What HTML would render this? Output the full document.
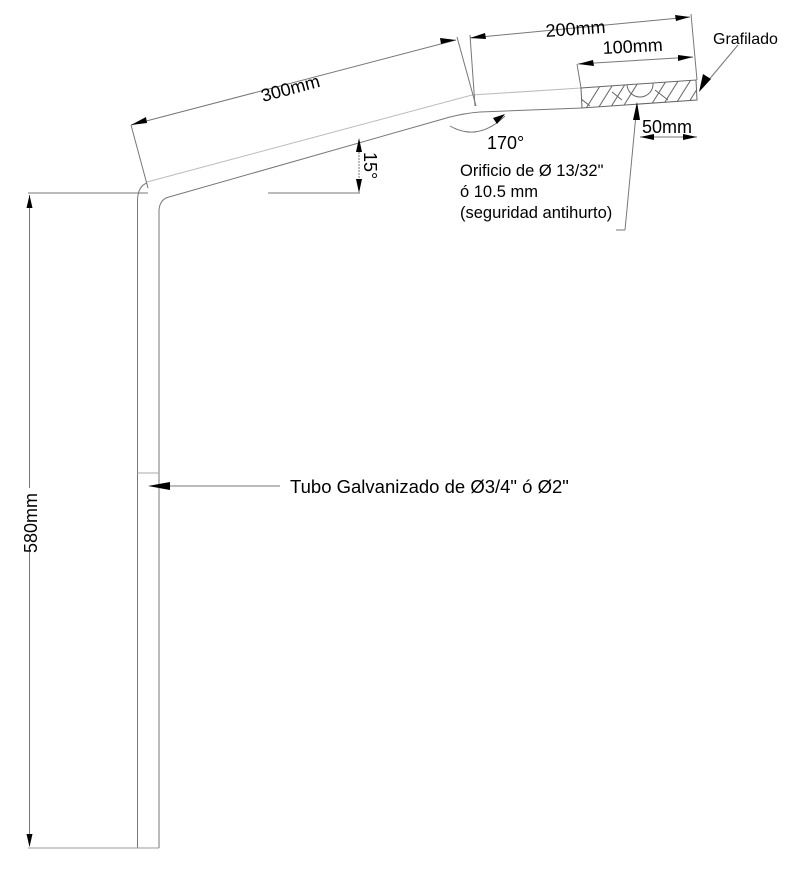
<!DOCTYPE html>
<html><head><meta charset="utf-8"><style>
html,body{margin:0;padding:0;background:#fff;}
svg{display:block;font-family:"Liberation Sans",Arial,sans-serif;}
</style></head><body>
<svg width="795" height="870" viewBox="0 0 795 870" xmlns="http://www.w3.org/2000/svg">
<defs>
<clipPath id="hc"><polygon points="581,88 696,80 697,100 582,108"/></clipPath>
</defs>
<g fill="none" stroke="#777" stroke-width="1">
<path d="M137.5,848 V200 Q138,186 147,183"/>
<path d="M159,848 V210 Q160,199 169,197 L450,117 Q466,113 480,112 L582,108"/>
<path d="M147,182 L472,95 L581,88" stroke="#bbb"/>
<line x1="137.5" y1="473" x2="159" y2="473" stroke="#aaa"/>
<line x1="137.5" y1="848" x2="159" y2="848" stroke="#999"/>
<line x1="28" y1="848" x2="137.5" y2="848" stroke="#999"/>
<line x1="28" y1="193" x2="148" y2="193"/>
<line x1="29.5" y1="195" x2="29.5" y2="488"/>
<line x1="29.5" y1="552" x2="29.5" y2="846"/>
<polygon points="581,88 696,80 697,100 582,108" stroke="#666"/>
<g clip-path="url(#hc)" stroke="#666">
<line x1="585" y1="110" x2="605" y2="78"/><line x1="597" y1="110" x2="617" y2="78"/>
<line x1="609" y1="110" x2="629" y2="78"/><line x1="621" y1="110" x2="641" y2="78"/>
<line x1="648" y1="110" x2="668" y2="78"/><line x1="660" y1="110" x2="680" y2="78"/>
<line x1="672" y1="110" x2="692" y2="78"/><line x1="684" y1="110" x2="704" y2="78"/>
<line x1="575" y1="94" x2="590" y2="106"/><line x1="655" y1="90" x2="668" y2="100"/>
<line x1="612" y1="92" x2="622" y2="100"/>
<path d="M627,85 A13,13 0 0 0 653,83"/>
</g>
<line x1="131" y1="125" x2="456" y2="40"/>
<line x1="131" y1="125" x2="148" y2="188"/>
<line x1="457" y1="37" x2="476" y2="106"/>
<line x1="470" y1="38" x2="690" y2="17"/>
<line x1="470" y1="35" x2="475" y2="106"/>
<line x1="691" y1="14" x2="697" y2="80"/>
<line x1="578" y1="64" x2="693" y2="57"/>
<line x1="577" y1="64" x2="581" y2="88"/>
<line x1="640" y1="137" x2="697" y2="137"/>
<line x1="625" y1="230" x2="637" y2="104"/>
<line x1="616" y1="230" x2="625" y2="230"/>
<line x1="738" y1="45" x2="702" y2="88"/>
<line x1="268" y1="193" x2="360" y2="193"/>
<line x1="359" y1="140" x2="359" y2="191" stroke-dasharray="2,1"/>
<path d="M450,126 Q478,142 505,116"/>
<line x1="150" y1="486" x2="280" y2="486"/>
</g>
<g fill="#000">
<polygon points="131,125 146,117 147,123"/>
<polygon points="456,40 441,44 440,38"/>
<polygon points="470,38 485,33 486,39"/>
<polygon points="690,17 675,15 676,21"/>
<polygon points="578,64 593,60 594,66"/>
<polygon points="693,57 678,55 678,61"/>
<polygon points="640,137 654,134 654,140"/>
<polygon points="697,137 683,134 683,140"/>
<polygon points="637,102 633,120 640,120"/>
<polygon points="699,92 703,74 711,79"/>
<polygon points="359,138 356,152 362,152"/>
<polygon points="359,193 356,179 362,179"/>
<polygon points="505,114 493,118 497,124"/>
<polygon points="148,486 170,482 170,490"/>
<polygon points="29.5,195 26.5,208 32.5,208"/>
<polygon points="29.5,847 26.5,834 32.5,834"/>
</g>
<g font-size="18" fill="#000">
<text x="0" y="0" transform="translate(263,102) rotate(-15)">300mm</text>
<text x="546" y="37" transform="rotate(-4 546 37)">200mm</text>
<text x="603" y="54" transform="rotate(-3 603 54)">100mm</text>
<text x="642" y="133">50mm</text>
<text x="713" y="44" font-size="16">Grafilado</text>
<text x="487" y="149">170°</text>
<text x="460" y="176" font-size="16.5">Orificio de Ø 13/32"</text>
<text x="460" y="197" font-size="16.5">ó 10.5 mm</text>
<text x="460" y="218" font-size="16.5">(seguridad antihurto)</text>
<text x="0" y="0" transform="translate(364,152) rotate(90)">15°</text>
<text x="290" y="493" font-size="18.5">Tubo Galvanizado de Ø3/4" ó Ø2"</text>
<text x="0" y="0" transform="translate(37,553) rotate(-90)">580mm</text>
</g>
</svg>
</body></html>
